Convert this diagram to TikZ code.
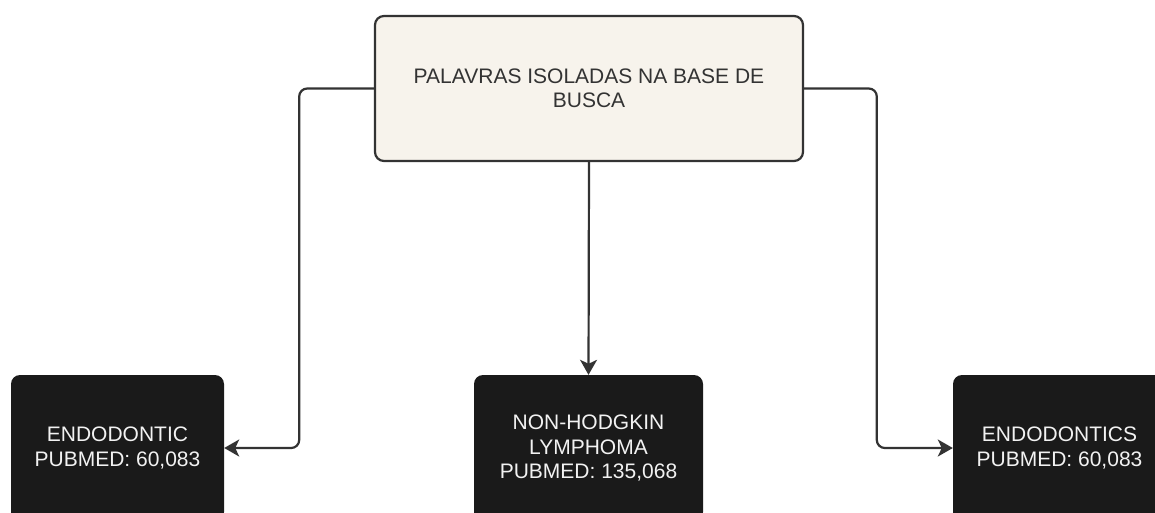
\documentclass[tikz,border=0pt]{standalone}
\usepackage{fontspec}
\setmainfont{Liberation Sans}
\usetikzlibrary{arrows.meta, positioning}
\definecolor{boxcream}{HTML}{F7F3EC}
\definecolor{boxdark}{HTML}{1A1A1A}
\definecolor{linegrey}{HTML}{333333}

\begin{document}
\begin{tikzpicture}[x=1pt, y=1pt,
    topbox/.style={draw=linegrey, line width=2.2pt, fill=boxcream, rounded corners=9pt,
                   minimum width=428pt, minimum height=145pt, align=center,
                   text=linegrey, font=\fontsize{21}{24.5}\selectfont},
    resbox/.style={fill=boxdark, rounded corners=9pt, minimum width=213pt,
                   minimum height=146pt, align=center, text=white!95!black,
                   font=\fontsize{21}{24.5}\selectfont},
    conn/.style={draw=linegrey, line width=2.2pt, rounded corners=8pt,
                 -{Stealth[length=15pt, width=17pt, inset=4pt]}}]
    \useasboundingbox (0, 0) rectangle (1155, -512);
    \clip (0, 0) rectangle (1155, -512);
    \fill[white] (0, 0) rectangle (1155, -512);
    \node[topbox] (busca) at (589, -88.5) {PALAVRAS ISOLADAS NA BASE DE\\BUSCA};
    \node[resbox] (endo)  at (117.5, -448) {ENDODONTIC\\PUBMED: 60,083};
    \node[resbox, minimum width=229pt] (nhl) at (588.5, -448)
        {NON-HODGKIN\\LYMPHOMA\\PUBMED: 135,068};
    \node[resbox] (endos) at (1059.5, -448) {ENDODONTICS\\PUBMED: 60,083};
    \draw[conn] (busca.west) -| ([xshift=75pt]endo.east) -- (endo.east);
    \draw[conn] (busca.south) -- (nhl.north);
    \draw[conn] (busca.east) -| ([xshift=-76pt]endos.west) -- (endos.west);
  \end{tikzpicture}
\end{document}
